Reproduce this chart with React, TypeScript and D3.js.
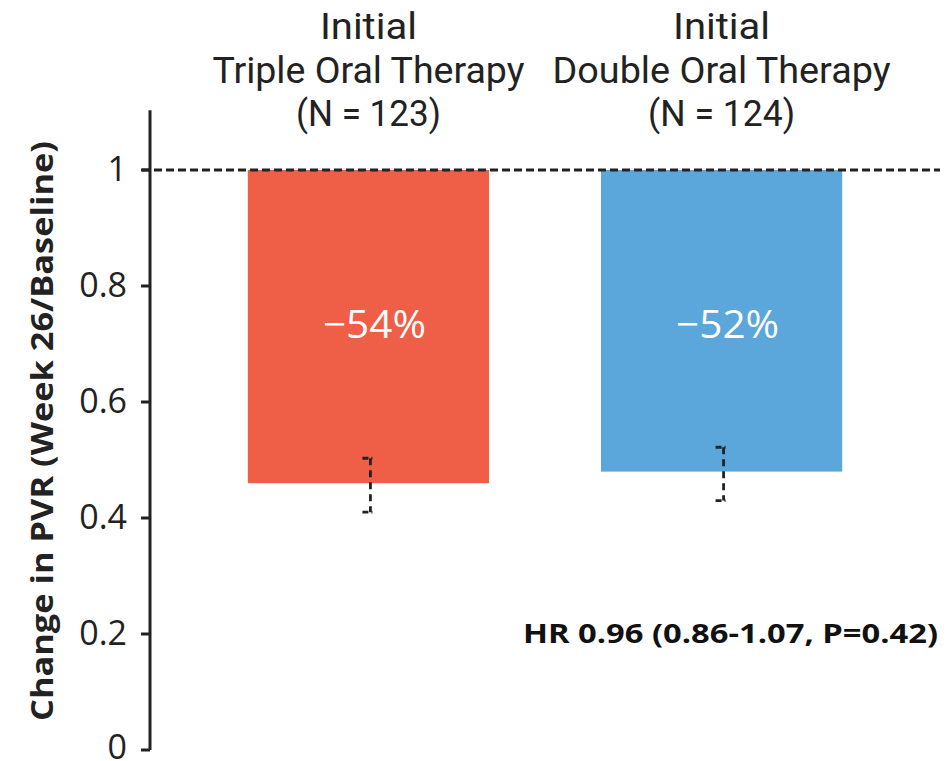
import React from "react";
import * as d3 from "d3";

const categories = ["Triple", "Double"];
const headerLines = [
  ["Initial", "Triple Oral Therapy", "(N = 123)"],
  ["Initial", "Double Oral Therapy", "(N = 124)"],
];
const headerWidths = [
  [97, 312, 145],
  [97, 338, 147],
];
const values = [0.46, 0.48];
const errLow = [0.41, 0.43];
const errHigh = [0.503, 0.522];
const pctLabels = ["\u221254%", "\u221252%"];
const colors = ["#EF5E47", "#5BA6DA"];
const yTicks = [0, 0.2, 0.4, 0.6, 0.8, 1];
const yTickLabels = ["0", "0.2", "0.4", "0.6", "0.8", "1"];
const baseline = 1;
const hrText = "HR 0.96 (0.86-1.07, P=0.42)";
const yTitle = "Change in PVR (Week 26/Baseline)";

export default function App() {
  const W = 951, H = 761;
  const y = d3.scaleLinear().domain([0, 1]).range([750, 170]);
  const x = d3.scaleBand<string>().domain(categories).range([150, 940]).paddingInner(0.317).paddingOuter(0.277);
  const axisX = 150;
  const cond = "Roboto, 'Noto Sans', sans-serif";
  const sans = "'Open Sans', 'Noto Sans', sans-serif";
  return (
    <svg width={W} height={H} style={{ position: "absolute", left: 0, top: 0, background: "#fff" }}>
      {categories.map((c, i) => (
        <rect key={c} x={x(c)} y={y(baseline)} width={x.bandwidth()} height={y(values[i]) - y(baseline)} fill={colors[i]} />
      ))}
      <line x1={axisX - 8} x2={940} y1={y(baseline)} y2={y(baseline)} stroke="#222" strokeWidth={2.8} strokeDasharray="8,4" />
      {categories.map((c, i) => {
        const cx = (x(c) as number) + x.bandwidth() / 2 + 2;
        return (
          <g key={"e" + c} stroke="#222" strokeWidth={2.8} fill="none">
            <line x1={cx} x2={cx} y1={y(errHigh[i])} y2={y(errLow[i])} strokeDasharray="7,5" />
            <line x1={cx - 8} x2={cx + 2} y1={y(errHigh[i])} y2={y(errHigh[i])} strokeDasharray="6,3" />
            <line x1={cx - 8} x2={cx + 2} y1={y(errLow[i])} y2={y(errLow[i])} strokeDasharray="6,3" />
          </g>
        );
      })}
      {categories.map((c, i) => (
        <text key={"p" + c} x={(x(c) as number) + x.bandwidth() / 2 + 6} y={338} textAnchor="middle" fill="#fff" fontSize={39} fontWeight={500} fontFamily={sans} textLength={103} lengthAdjust="spacingAndGlyphs">
          {pctLabels[i]}
        </text>
      ))}
      <line x1={axisX} x2={axisX} y1={y(1.103)} y2={y(0)} stroke="#222" strokeWidth={3} />
      {yTicks.map((t, i) => (
        <g key={"t" + t}>
          <line x1={axisX - 9} x2={axisX} y1={y(t)} y2={y(t)} stroke="#222" strokeWidth={3} />
          <text x={127} y={Math.min(y(t) + 11, 759)} textAnchor="end" fontSize={34} fontWeight={500} fill="#222" fontFamily={sans}>
            {yTickLabels[i]}
          </text>
        </g>
      ))}
      <text transform={`translate(53,${431}) rotate(-90)`} textAnchor="middle" fontSize={30} fontWeight="bold" fill="#222" fontFamily={sans} textLength={580} lengthAdjust="spacingAndGlyphs">
        {yTitle}
      </text>
      {categories.map((c, i) => (
        <g key={"h" + c}>
          {headerLines[i].map((l, j) => (
            <text key={j} x={(x(c) as number) + x.bandwidth() / 2} y={39 + j * 43.5} textAnchor="middle" fontSize={36} fontWeight={400} fill="#222" fontFamily={cond} textLength={headerWidths[i][j]} lengthAdjust="spacingAndGlyphs">
              {l}
            </text>
          ))}
        </g>
      ))}
      <text x={938} y={643} textAnchor="end" fontSize={27} fontWeight="bold" fill="#111" fontFamily={sans} textLength={415} lengthAdjust="spacingAndGlyphs">
        {hrText}
      </text>
    </svg>
  );
}
